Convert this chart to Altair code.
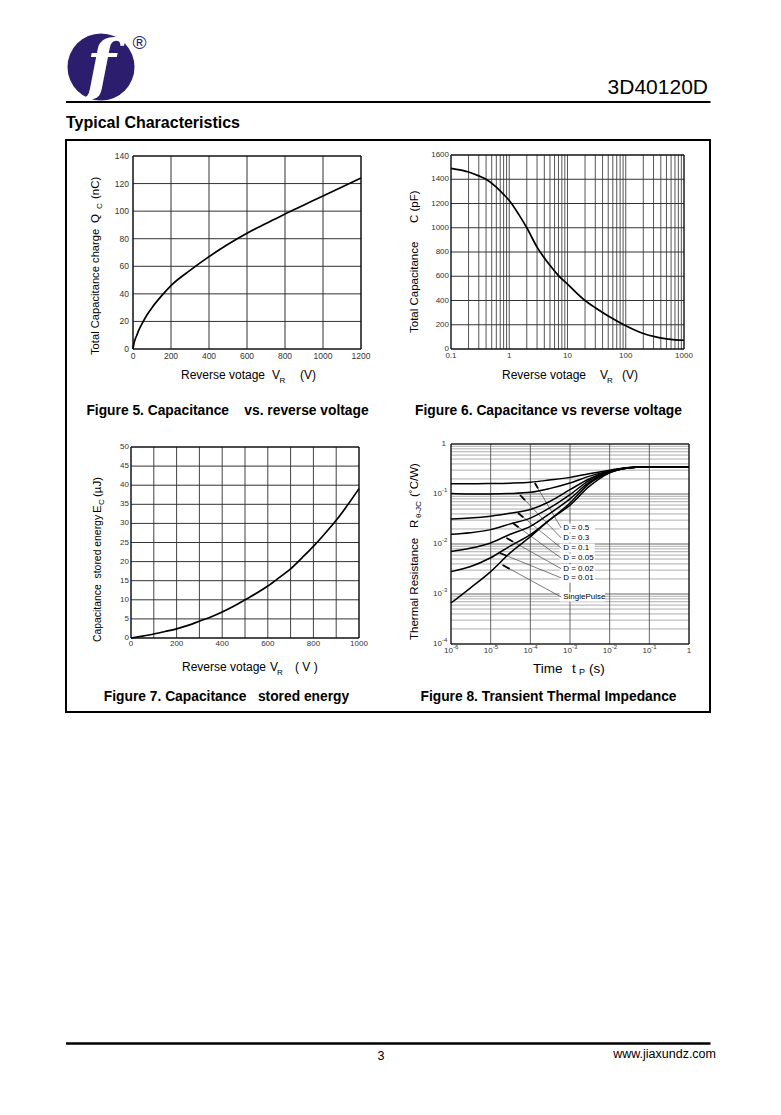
import altair as alt
import pandas as pd

MARGIN = 8
FONT = "Liberation Sans"
W, H = 765, 1075
NB = "\u00a0"


def P(v):
    return v - MARGIN


# ---------------- data ----------------
# Figure 5: total capacitance charge Qc (nC) vs reverse voltage VR (V)
fig5_vr = [0, 5, 10, 20, 30, 50, 75, 100, 150, 200, 300, 400, 500, 600, 700, 800, 900, 1000, 1100, 1200]
fig5_qc = [0, 4, 6.5, 10, 13.5, 19, 25, 30, 38.5, 46, 57, 67, 76, 84, 91, 98, 104.5, 111, 117.5, 124]
fig5_x_ticks = [0, 200, 400, 600, 800, 1000, 1200]
fig5_y_ticks = [0, 20, 40, 60, 80, 100, 120, 140]

# Figure 6: total capacitance C (pF) vs reverse voltage VR (V), log x
fig6_vr = [0.1, 0.2, 0.3, 0.4, 0.6, 0.8, 1, 1.5, 2, 3, 5, 7, 10, 20, 30, 50, 100, 200, 300, 500, 700, 1000]
fig6_c = [1490, 1460, 1428, 1400, 1335, 1275, 1225, 1100, 1000, 840, 690, 605, 535, 400, 340, 272, 192, 128, 104, 83, 75, 72]
fig6_x_grid = [0.1, 0.2, 0.3, 0.4, 0.5, 0.6, 0.7, 0.8, 0.9,
               1, 2, 3, 4, 5, 6, 7, 8, 9,
               10, 20, 30, 40, 50, 60, 70, 80, 90,
               100, 200, 300, 400, 500, 600, 700, 800, 900, 1000]
fig6_x_labels = [0.1, 1, 10, 100, 1000]
fig6_x_label_text = ["0.1", "1", "10", "100", "1000"]
fig6_y_ticks = [0, 200, 400, 600, 800, 1000, 1200, 1400, 1600]

# Figure 7: capacitance stored energy Ec (uJ) vs reverse voltage VR (V)
fig7_vr = [0, 50, 100, 150, 200, 250, 300, 350, 400, 450, 500, 550, 600, 650, 700, 750, 800, 850, 900, 950, 1000]
fig7_ec = [0, 0.5, 1.05, 1.7, 2.4, 3.3, 4.4, 5.5, 6.8, 8.3, 10, 11.7, 13.6, 15.8, 18.1, 21, 24, 27.3, 30.8, 34.8, 39.1]
fig7_x_grid = [0, 100, 200, 300, 400, 500, 600, 700, 800, 900, 1000]
fig7_x_labels = [0, 200, 400, 600, 800, 1000]
fig7_y_ticks = [0, 5, 10, 15, 20, 25, 30, 35, 40, 45, 50]

# Figure 8: transient thermal impedance (C/W) vs pulse time tp (s), log-log
fig8_tp = [1e-6, 3e-6, 1e-5, 3e-5, 1e-4, 3e-4, 1e-3, 3e-3, 1e-2, 3e-2, 1e-1, 3e-1, 1]
fig8_curves = {
    "D = 0.5":  [0.16, 0.16, 0.162, 0.165, 0.172, 0.19, 0.215, 0.255, 0.30, 0.34, 0.35, 0.35, 0.35],
    "D = 0.3":  [0.102, 0.100, 0.100, 0.102, 0.108, 0.128, 0.166, 0.225, 0.29, 0.335, 0.35, 0.35, 0.35],
    "D = 0.1":  [0.0316, 0.033, 0.036, 0.041, 0.049, 0.07, 0.122, 0.20, 0.285, 0.335, 0.35, 0.35, 0.35],
    "D = 0.05": [0.0156, 0.0168, 0.0194, 0.025, 0.033, 0.052, 0.097, 0.185, 0.28, 0.335, 0.35, 0.35, 0.35],
    "D = 0.02": [0.0071, 0.0082, 0.0105, 0.0155, 0.0225, 0.04, 0.08, 0.17, 0.275, 0.335, 0.35, 0.35, 0.35],
    "D = 0.01": [0.0028, 0.0035, 0.0053, 0.009, 0.0154, 0.03, 0.066, 0.16, 0.27, 0.33, 0.35, 0.35, 0.35],
    "SinglePulse": [0.00066, 0.0013, 0.0028, 0.0065, 0.014, 0.03, 0.06, 0.14, 0.265, 0.33, 0.35, 0.35, 0.35],
}
fig8_x_grid = [1e-6, 1e-5, 1e-4, 1e-3, 1e-2, 1e-1, 1]
fig8_x_exp = ["-6", "-5", "-4", "-3", "-2", "-1", ""]
fig8_y_grid = [m * 10.0 ** e for e in (-4, -3, -2, -1) for m in range(1, 10)] + [1]
fig8_y_major = [1e-4, 1e-3, 1e-2, 1e-1, 1]
fig8_y_exp = ["-4", "-3", "-2", "-1", ""]
# annotation: label text, label R, pointer tip (t, R)
fig8_ann_text = ["D = 0.5", "D = 0.3", "D = 0.1", "D = 0.05", "D = 0.02", "D = 0.01", "SinglePulse"]
fig8_ann_R = [0.0209, 0.0132, 0.0083, 0.0052, 0.0032, 0.0021, 0.00087]
fig8_ann_t = 6.0e-4
fig8_tip_t = [1.3e-4, 5.5e-5, 4.9e-5, 3.6e-5, 2.5e-5, 1.7e-5, 2.0e-5]
fig8_tip_R = [0.166, 0.0955, 0.0417, 0.0263, 0.0132, 0.0066, 0.0038]


# ---------------- helpers ----------------
def T(s, x, y, size=12, align="left", baseline="alphabetic", angle=0, weight="normal",
      color="black", font=FONT, style="normal"):
    return alt.Chart(pd.DataFrame({"s": [s]})).mark_text(
        align=align, baseline=baseline, angle=angle, fontSize=size, fontWeight=weight,
        color=color, font=font, fontStyle=style
    ).encode(text="s:N", x=alt.value(P(x)), y=alt.value(P(y)))


def scales(box, xdom, ydom, xtype, ytype):
    x0, x1, y0, y1 = box
    xs = alt.Scale(type=xtype, domain=xdom, range=[P(x0), P(x1)], nice=False, zero=False)
    ys = alt.Scale(type=ytype, domain=ydom, range=[P(y1), P(y0)], nice=False, zero=False)
    return xs, ys


def vgrid(vals, xs, ys, ydom, color, w):
    df = pd.DataFrame({"g": vals, "lo": ydom[0], "hi": ydom[1]})
    return alt.Chart(df).mark_rule(color=color, strokeWidth=w).encode(
        x=alt.X("g:Q", scale=xs, axis=None), y=alt.Y("lo:Q", scale=ys, axis=None), y2="hi:Q")


def hgrid(vals, xs, ys, xdom, color, w):
    df = pd.DataFrame({"g": vals, "lo": xdom[0], "hi": xdom[1]})
    return alt.Chart(df).mark_rule(color=color, strokeWidth=w).encode(
        y=alt.Y("g:Q", scale=ys, axis=None), x=alt.X("lo:Q", scale=xs, axis=None), x2="hi:Q")


def frame(xs, ys, xdom, ydom):
    df = pd.DataFrame({"xa": [xdom[0]], "xb": [xdom[1]], "ya": [ydom[0]], "yb": [ydom[1]]})
    return alt.Chart(df).mark_rect(fillOpacity=0, stroke="black", strokeWidth=1).encode(
        x=alt.X("xa:Q", scale=xs, axis=None), x2="xb:Q",
        y=alt.Y("ya:Q", scale=ys, axis=None), y2="yb:Q")


def curve(xv, yv, xs, ys, w=1.7):
    df = pd.DataFrame({"x": xv, "y": yv})
    return alt.Chart(df).mark_line(color="black", strokeWidth=w, interpolate="monotone").encode(
        x=alt.X("x:Q", scale=xs, axis=None), y=alt.Y("y:Q", scale=ys, axis=None))


def xlabels(vals, texts, xs, ys, ymin, dy, size=8):
    df = pd.DataFrame({"v": vals, "t": texts, "lo": ymin})
    return alt.Chart(df).mark_text(align="center", baseline="middle", dy=dy, fontSize=size,
                                   font=FONT, color="#333333").encode(
        x=alt.X("v:Q", scale=xs, axis=None), y=alt.Y("lo:Q", scale=ys, axis=None), text="t:N")


def ylabels(vals, texts, xs, ys, xmin, dx, size=8):
    df = pd.DataFrame({"v": vals, "t": texts, "lo": xmin})
    return alt.Chart(df).mark_text(align="right", baseline="middle", dx=dx, fontSize=size,
                                   font=FONT, color="#333333").encode(
        y=alt.Y("v:Q", scale=ys, axis=None), x=alt.X("lo:Q", scale=xs, axis=None), text="t:N")


layers = []

# ---------------- page header ----------------
logo_df = pd.DataFrame({"s": [1]})
layers.append(alt.Chart(logo_df).mark_point(shape="circle", filled=True, size=67 * 67, color="#2c1d6e",
                                           opacity=1).encode(x=alt.value(P(101)), y=alt.value(P(67))))
layers.append(T("f", 101, 68, size=68, align="center", baseline="middle", color="white",
                font="DejaVu Serif", style="italic", weight="bold"))
layers.append(T("\u00ae", 139.5, 43, size=19, align="center", baseline="middle", color="#2c1d6e"))
layers.append(T("3D40120D", 708, 94, size=21, align="right"))
layers.append(alt.Chart(logo_df).mark_rule(color="black", strokeWidth=2).encode(
    x=alt.value(P(66)), x2=alt.value(P(710.5)), y=alt.value(P(102))))
layers.append(T("Typical Characteristics", 66, 128, size=16, weight="bold"))
# outer box
layers.append(alt.Chart(logo_df).mark_rect(fillOpacity=0, stroke="black", strokeWidth=2).encode(
    x=alt.value(P(66)), x2=alt.value(P(710)), y=alt.value(P(140)), y2=alt.value(P(712))))
# footer
layers.append(alt.Chart(logo_df).mark_rule(color="black", strokeWidth=2.5).encode(
    x=alt.value(P(66)), x2=alt.value(P(710.5)), y=alt.value(P(1043.5))))
layers.append(T("3", 381, 1060, size=12.5, align="center"))
layers.append(T("www.jiaxundz.com", 716, 1058, size=12.5, align="right"))

CAP = 13.8

# ---------------- Figure 5 ----------------
box5 = (133, 361, 156, 349)
xd5, yd5 = [0, 1200], [0, 140]
xs5, ys5 = scales(box5, xd5, yd5, "linear", "linear")
layers += [
    vgrid(fig5_x_ticks, xs5, ys5, yd5, "#333333", 1),
    hgrid(fig5_y_ticks, xs5, ys5, xd5, "#333333", 1),
    frame(xs5, ys5, xd5, yd5),
    curve(fig5_vr, fig5_qc, xs5, ys5),
    xlabels(fig5_x_ticks, [str(v) for v in fig5_x_ticks], xs5, ys5, 0, 7, 8.5),
    ylabels(fig5_y_ticks, [str(v) for v in fig5_y_ticks], xs5, ys5, 0, -4, 8.5),
    T("Reverse votage", 181, 379),
    T("V", 272, 379),
    T("R", 279.5, 382.5, size=8),
    T("(V)", 300, 379),
    T("Total Capacitance charge", 99, 355, size=11.2, angle=270),
    T("Q", 99, 223, size=11.5, angle=270),
    T("C", 102, 209, size=8, angle=270),
    T("(nC)", 99, 199, size=11.5, angle=270),
    T("Figure 5. Capacitance" + NB * 4 + "vs. reverse voltage", 227.5, 415, size=CAP, align="center",
      weight="bold"),
]

# ---------------- Figure 6 ----------------
box6 = (451, 684, 155, 349)
xd6, yd6 = [0.1, 1000], [0, 1600]
xs6, ys6 = scales(box6, xd6, yd6, "log", "linear")
layers += [
    vgrid(fig6_x_grid, xs6, ys6, yd6, "#444444", 0.9),
    hgrid(fig6_y_ticks, xs6, ys6, xd6, "#333333", 1),
    frame(xs6, ys6, xd6, yd6),
    curve(fig6_vr, fig6_c, xs6, ys6),
    xlabels(fig6_x_labels, fig6_x_label_text, xs6, ys6, 0, 7, 8),
    ylabels(fig6_y_ticks, [str(v) for v in fig6_y_ticks], xs6, ys6, 0.1, -2, 8),
    T("Reverse votage", 502, 379),
    T("V", 600, 379),
    T("R", 607, 382.5, size=8),
    T("(V)", 622, 379),
    T("Total Capacitance", 418, 333, size=11.5, angle=270),
    T("C" + NB + "(pF)", 418, 223, size=11.5, angle=270),
    T("Figure 6. Capacitance vs reverse voltage", 548.5, 415, size=CAP, align="center", weight="bold"),
]

# ---------------- Figure 7 ----------------
box7 = (131, 359, 447, 638)
xd7, yd7 = [0, 1000], [0, 50]
xs7, ys7 = scales(box7, xd7, yd7, "linear", "linear")
layers += [
    vgrid(fig7_x_grid, xs7, ys7, yd7, "#444444", 1),
    hgrid(fig7_y_ticks, xs7, ys7, xd7, "#333333", 1),
    frame(xs7, ys7, xd7, yd7),
    curve(fig7_vr, fig7_ec, xs7, ys7),
    xlabels(fig7_x_labels, [str(v) for v in fig7_x_labels], xs7, ys7, 0, 6, 8),
    ylabels(fig7_y_ticks, [str(v) for v in fig7_y_ticks], xs7, ys7, 0, -2, 8),
    T("Reverse votage", 182, 671),
    T("V", 270, 671),
    T("R", 277, 674.5, size=8),
    T("(" + NB + "V" + NB + ")", 295, 671),
    T("Capacitance" + NB * 2 + "stored energy", 101, 642, size=10.4, angle=270),
    T("E", 101, 513, size=11.5, angle=270),
    T("C", 104, 505, size=8, angle=270),
    T("(\u00b5J)", 101, 497, size=11.5, angle=270),
    T("Figure 7. Capacitance" + NB * 3 + "stored energy", 226.5, 701, size=CAP, align="center",
      weight="bold"),
]

# ---------------- Figure 8 ----------------
box8 = (451, 689, 444, 644)
xd8, yd8 = [1e-6, 1], [1e-4, 1]
xs8, ys8 = scales(box8, xd8, yd8, "log", "log")
rows = []
for name, vals in fig8_curves.items():
    for t, r in zip(fig8_tp, vals):
        rows.append({"t": t, "r": r, "s": name})
c8 = pd.DataFrame(rows)

ann = pd.DataFrame({
    "txt": fig8_ann_text, "R": fig8_ann_R, "ta": fig8_ann_t,
    "tt": fig8_tip_t, "tr": fig8_tip_R,
})
ann["bx0"] = ann["ta"] * 10 ** (-0.04)
ann["bx1"] = ann["ta"] * 10 ** (0.85)
ann.loc[ann["txt"] == "SinglePulse", "bx1"] = fig8_ann_t * 10 ** 1.1
ann["by0"] = ann["R"] * 10 ** (-0.09)
ann["by1"] = ann["R"] * 10 ** (0.09)
ann["ht"] = ann["tt"] * (ann["ta"] / ann["tt"]) ** 0.12
ann["hr"] = ann["tr"] * (ann["R"] / ann["tr"]) ** 0.12

minor = [v for v in fig8_y_grid if v not in fig8_y_major]
layers += [
    hgrid(minor, xs8, ys8, xd8, "#8a8a8a", 0.7),
    hgrid(fig8_y_major, xs8, ys8, xd8, "#555555", 0.9),
    vgrid(fig8_x_grid, xs8, ys8, yd8, "#555555", 0.9),
    alt.Chart(ann).mark_rect(color="white").encode(
        x=alt.X("bx0:Q", scale=xs8, axis=None), x2="bx1:Q",
        y=alt.Y("by0:Q", scale=ys8, axis=None), y2="by1:Q"),
    alt.Chart(ann).mark_rule(color="#444444", strokeWidth=0.7).encode(
        x=alt.X("ta:Q", scale=xs8, axis=None), x2="tt:Q",
        y=alt.Y("R:Q", scale=ys8, axis=None), y2="tr:Q"),
    alt.Chart(ann).mark_rule(color="black", strokeWidth=1.8).encode(
        x=alt.X("tt:Q", scale=xs8, axis=None), x2="ht:Q",
        y=alt.Y("tr:Q", scale=ys8, axis=None), y2="hr:Q"),
    frame(xs8, ys8, xd8, yd8),
    alt.Chart(c8).mark_line(color="black", strokeWidth=1.5, interpolate="monotone").encode(
        x=alt.X("t:Q", scale=xs8, axis=None), y=alt.Y("r:Q", scale=ys8, axis=None), detail="s:N"),
    alt.Chart(ann).mark_text(align="left", baseline="middle", dx=2, fontSize=8, font=FONT,
                             color="black").encode(
        x=alt.X("ta:Q", scale=xs8, axis=None), y=alt.Y("R:Q", scale=ys8, axis=None), text="txt:N"),
]
xl = pd.DataFrame({"v": fig8_x_grid, "e": fig8_x_exp, "lo": 1e-4})
xl["b"] = ["10" if e else "1" for e in fig8_x_exp]
yl = pd.DataFrame({"v": fig8_y_major, "e": fig8_y_exp, "lo": 1e-6})
yl["b"] = ["10" if e else "1" for e in fig8_y_exp]
xl_pow = xl[xl["e"] != ""]
xl_one = xl[xl["e"] == ""]
yl_pow = yl[yl["e"] != ""]
yl_one = yl[yl["e"] == ""]
lab = dict(font=FONT, color="#333333")
layers += [
    alt.Chart(xl_pow).mark_text(align="right", baseline="middle", dx=2, dy=7, fontSize=8, **lab).encode(
        x=alt.X("v:Q", scale=xs8, axis=None), y=alt.Y("lo:Q", scale=ys8, axis=None), text="b:N"),
    alt.Chart(xl_pow).mark_text(align="left", baseline="middle", dx=2, dy=3, fontSize=6, **lab).encode(
        x=alt.X("v:Q", scale=xs8, axis=None), y=alt.Y("lo:Q", scale=ys8, axis=None), text="e:N"),
    alt.Chart(xl_one).mark_text(align="center", baseline="middle", dy=7, fontSize=8, **lab).encode(
        x=alt.X("v:Q", scale=xs8, axis=None), y=alt.Y("lo:Q", scale=ys8, axis=None), text="b:N"),
    alt.Chart(yl_pow).mark_text(align="right", baseline="middle", dx=-9, fontSize=8, **lab).encode(
        x=alt.X("lo:Q", scale=xs8, axis=None), y=alt.Y("v:Q", scale=ys8, axis=None), text="b:N"),
    alt.Chart(yl_pow).mark_text(align="left", baseline="middle", dx=-9, dy=-4, fontSize=6, **lab).encode(
        x=alt.X("lo:Q", scale=xs8, axis=None), y=alt.Y("v:Q", scale=ys8, axis=None), text="e:N"),
    alt.Chart(yl_one).mark_text(align="right", baseline="middle", dx=-5, fontSize=8, **lab).encode(
        x=alt.X("lo:Q", scale=xs8, axis=None), y=alt.Y("v:Q", scale=ys8, axis=None), text="b:N"),
    T("Time", 533, 673, size=13.5),
    T("t", 572, 673, size=13.5),
    T("P", 579, 675, size=9),
    T("(s)", 589, 673, size=13.5),
    T("Thermal Resistance", 418, 640, size=11.5, angle=270),
    T("R", 418, 528, size=11.5, angle=270),
    T("\u03b8-JC", 421, 518, size=8, angle=270),
    T("(\u02daC/W)", 418, 497, size=11.5, angle=270),
    T("Figure 8. Transient Thermal Impedance", 548.5, 701, size=CAP, align="center", weight="bold"),
]

chart = alt.layer(*layers).resolve_scale(x="independent", y="independent").properties(
    width=W, height=H, autosize=alt.AutoSizeParams(type="none"), padding=0, background="white"
).configure_view(strokeWidth=0)

chart.save("out.html", embed_options={"renderer": "svg", "actions": False})
